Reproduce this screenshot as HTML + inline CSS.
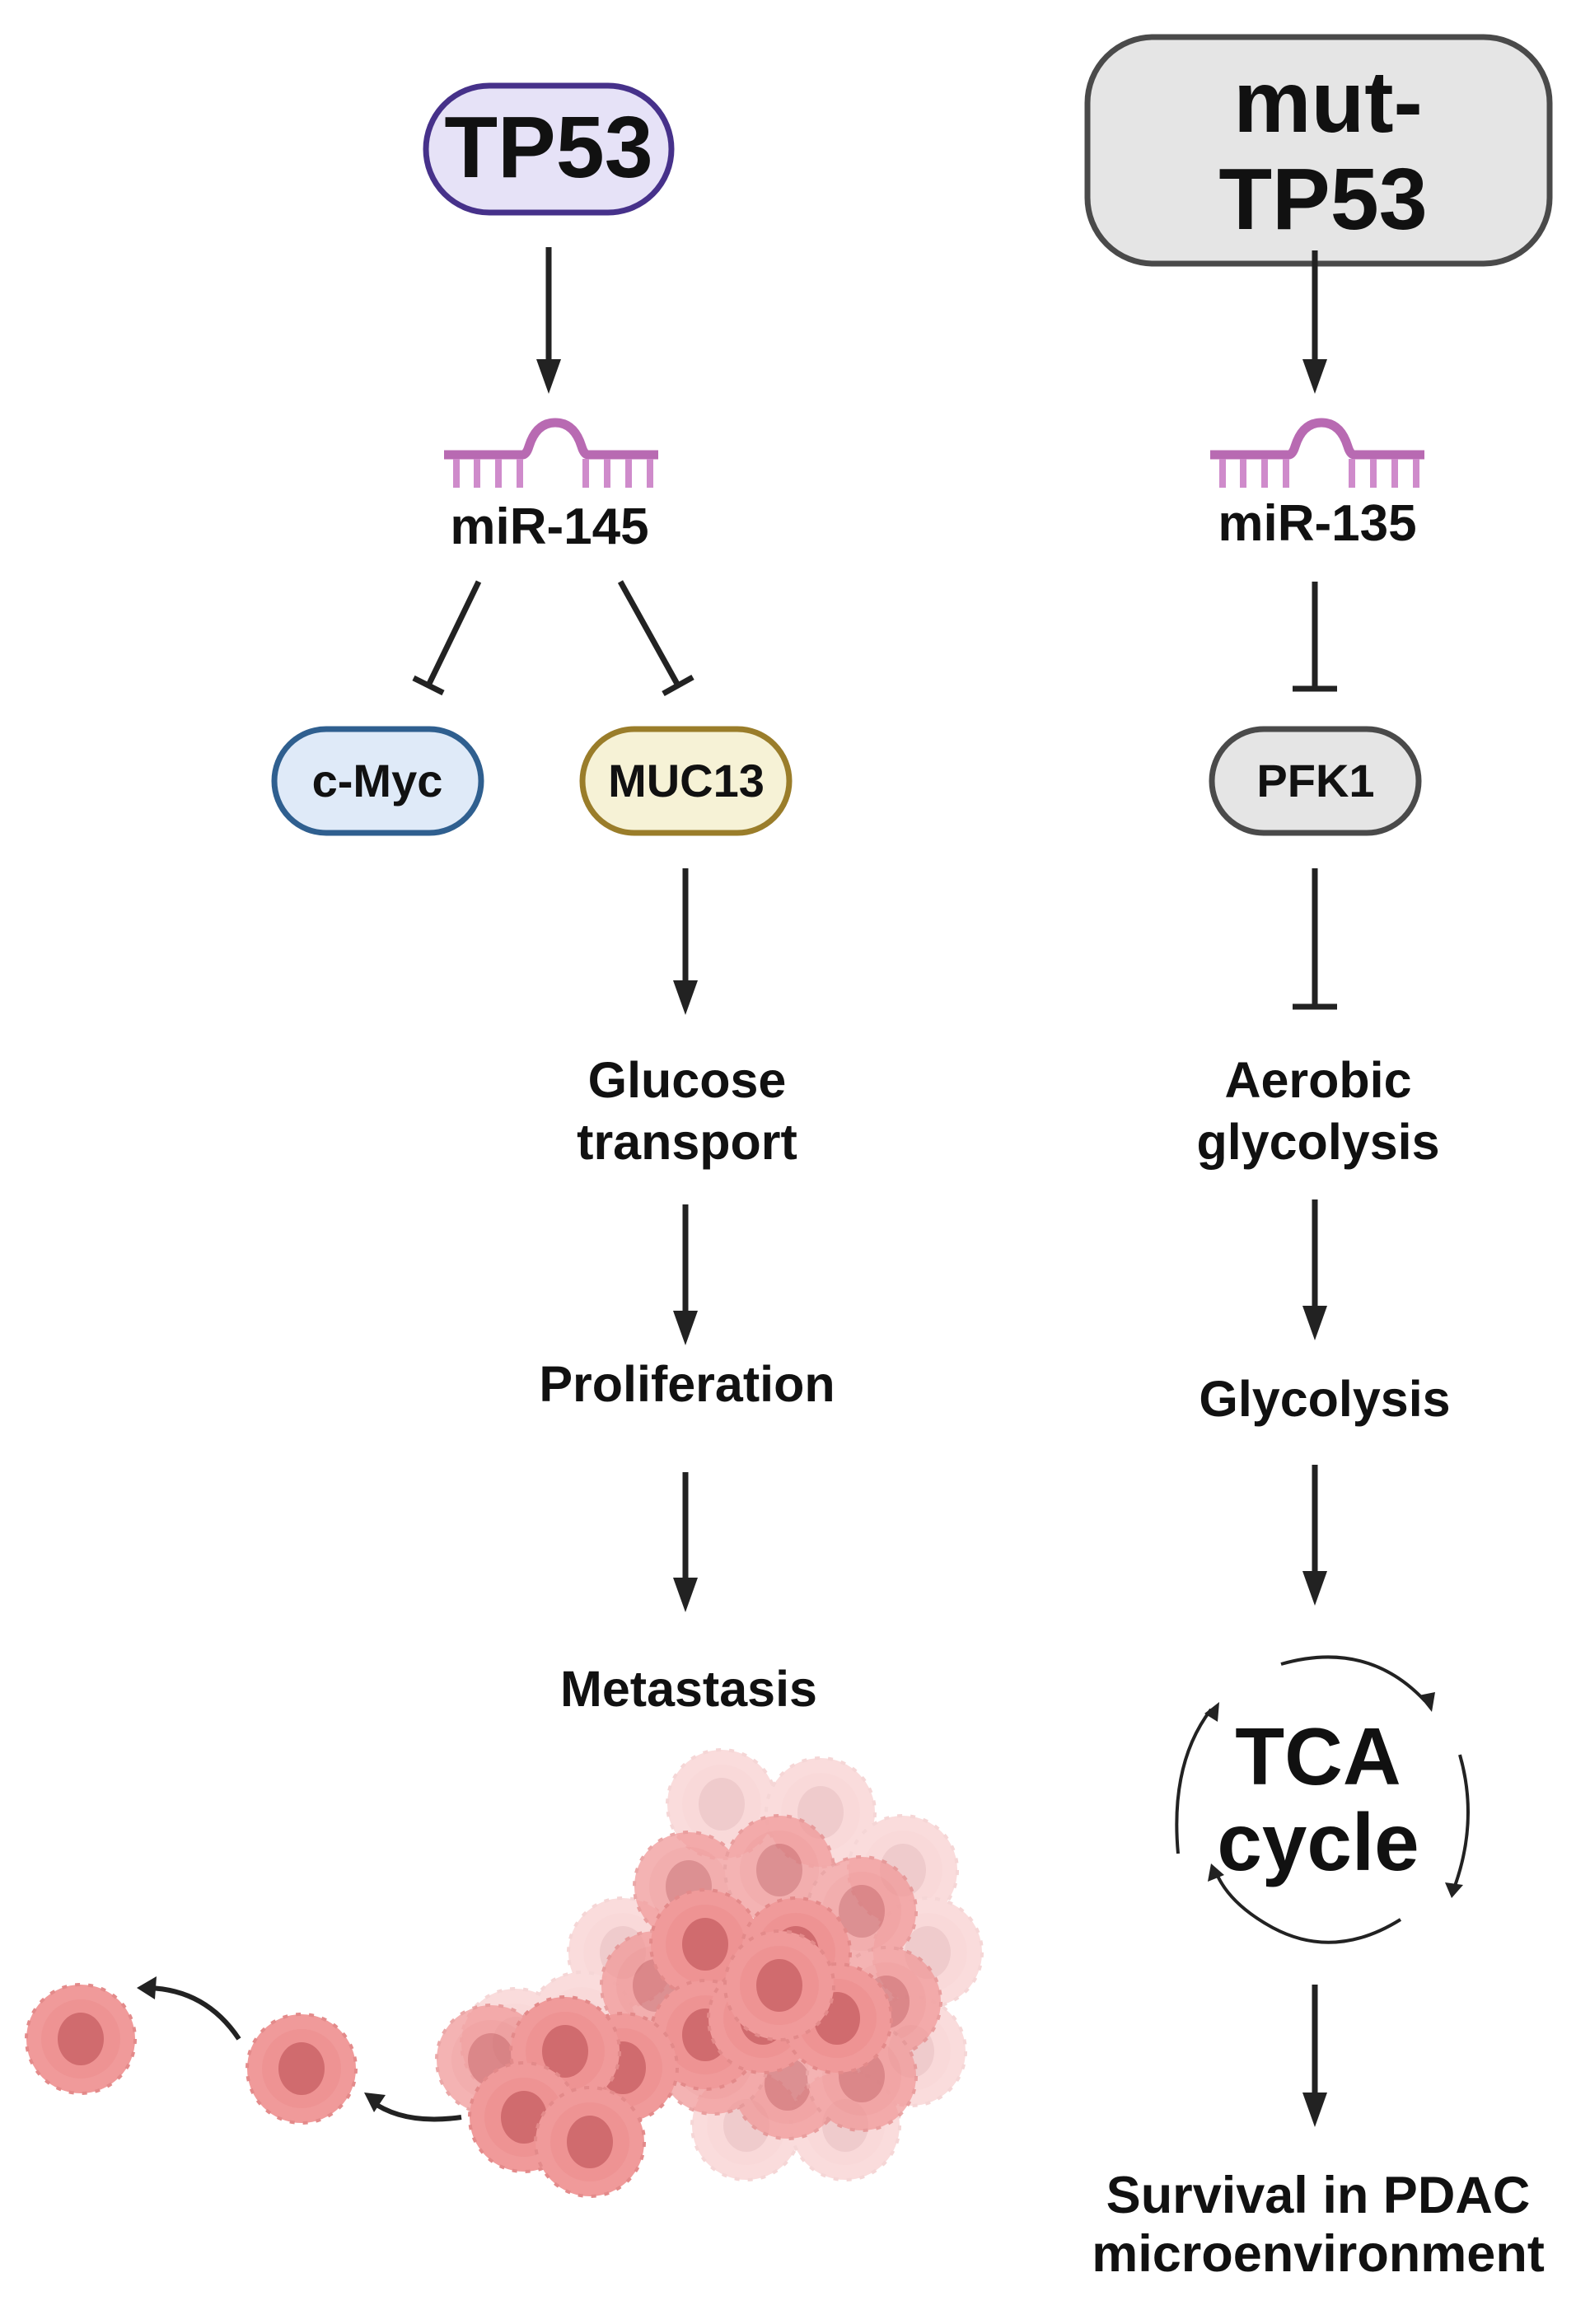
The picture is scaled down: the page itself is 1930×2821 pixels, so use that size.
<!DOCTYPE html>
<html><head><meta charset="utf-8"><style>
html,body{margin:0;padding:0;background:#fff}
svg{display:block}
text{font-family:"Liberation Sans",Arial,sans-serif;font-weight:bold;fill:#111;text-anchor:middle}
</style></head><body>
<svg width="1930" height="2821" viewBox="0 0 1930 2821" xmlns="http://www.w3.org/2000/svg">
<defs>
<g id="mir">
<path d="M0 43 H95 Q100 43 103 33 Q112 4 135 4 Q158 4 167 33 Q170 43 175 43 H260" fill="none" stroke="#b86ab2" stroke-width="11"/>
<g stroke="#cf8bcb" stroke-width="8">
<line x1="15" y1="48" x2="15" y2="83"/><line x1="40" y1="48" x2="40" y2="83"/><line x1="66" y1="48" x2="66" y2="83"/><line x1="92" y1="48" x2="92" y2="83"/>
<line x1="172" y1="48" x2="172" y2="83"/><line x1="198" y1="48" x2="198" y2="83"/><line x1="224" y1="48" x2="224" y2="83"/><line x1="250" y1="48" x2="250" y2="83"/>
</g>
</g>
<g id="cell">
<circle r="66" fill="#f09a9a"/>
<circle r="66" fill="none" stroke="#e38a8a" stroke-width="4" stroke-dasharray="6 10"/>
<circle r="48" fill="#ec9090" opacity="0.6"/>
<ellipse rx="28" ry="32" fill="#d06b6e"/>
</g>
</defs>
<g transform="translate(6,0)">
<rect x="511" y="104" width="298" height="154" rx="77" fill="#e6e2f7" stroke="#46318a" stroke-width="7"/>
<text x="660" y="215" font-size="106">TP53</text>

<g stroke="#222" stroke-width="7" fill="none">
<line x1="660" y1="300" x2="660" y2="440"/>
<line x1="575" y1="706" x2="514" y2="832"/>
<line x1="496" y1="823" x2="532" y2="841"/>
<line x1="747" y1="706" x2="817" y2="832"/>
<line x1="799" y1="842" x2="835" y2="822"/>
<line x1="826" y1="1054" x2="826" y2="1195"/>
<line x1="826" y1="1462" x2="826" y2="1596"/>
<line x1="826" y1="1787" x2="826" y2="1920"/>
</g>
<g fill="#222">
<polygon points="645,436 675,436 660,478"/>
<polygon points="811,1190 841,1190 826,1232"/>
<polygon points="811,1591 841,1591 826,1633"/>
<polygon points="811,1915 841,1915 826,1957"/>
</g>
<use href="#mir" x="533" y="509"/>
<text x="661" y="660" font-size="62">miR-145</text>

<rect x="327" y="885" width="251" height="126" rx="63" fill="#dfeaf8" stroke="#2f5f8f" stroke-width="7"/>
<text x="452" y="967" font-size="56">c-Myc</text>
<rect x="701" y="885" width="251" height="126" rx="63" fill="#f6f2d6" stroke="#9a7d2a" stroke-width="7"/>
<text x="827" y="967" font-size="56">MUC13</text>

<text x="828" y="1332" font-size="61">Glucose</text>
<text x="828" y="1407" font-size="61">transport</text>
<text x="828" y="1701" font-size="61">Proliferation</text>
<text x="830" y="2071" font-size="61">Metastasis</text>

<g opacity="0.35">
<use href="#cell" x="870" y="2190"/><use href="#cell" x="990" y="2200"/>
<use href="#cell" x="1090" y="2270"/><use href="#cell" x="1120" y="2370"/>
<use href="#cell" x="750" y="2370"/><use href="#cell" x="700" y="2460"/>
<use href="#cell" x="1100" y="2490"/><use href="#cell" x="900" y="2580"/>
<use href="#cell" x="1020" y="2580"/><use href="#cell" x="620" y="2480"/>
</g>
<g opacity="0.75">
<use href="#cell" x="830" y="2290"/><use href="#cell" x="940" y="2270"/>
<use href="#cell" x="1040" y="2320"/><use href="#cell" x="790" y="2410"/>
<use href="#cell" x="1070" y="2430"/><use href="#cell" x="950" y="2530"/>
<use href="#cell" x="860" y="2500"/><use href="#cell" x="1040" y="2520"/>
<use href="#cell" x="590" y="2500"/>
</g>
<use href="#cell" x="850" y="2360"/><use href="#cell" x="960" y="2370"/>
<use href="#cell" x="850" y="2470"/><use href="#cell" x="920" y="2450"/>
<use href="#cell" x="1010" y="2450"/><use href="#cell" x="940" y="2410"/>
<use href="#cell" x="750" y="2510"/><use href="#cell" x="680" y="2490"/>
<use href="#cell" x="630" y="2570"/><use href="#cell" x="710" y="2600"/>

<use href="#cell" x="92" y="2475"/>
<use href="#cell" x="360" y="2511"/>
<g stroke="#222" stroke-width="6" fill="none">
<path d="M284 2475 Q244 2415 174 2413"/>
<path d="M554 2570 Q484 2580 444 2550"/>
</g>
<g fill="#222">
<polygon points="160,2413 184,2399 182,2427"/>
<polygon points="436,2540 462,2543 448,2564"/>
</g>
</g>

<rect x="1320" y="45" width="561" height="275" rx="80" fill="#e5e5e5" stroke="#4a4a4a" stroke-width="7"/>
<g transform="translate(20,0)">
<text x="1592" y="160" font-size="106">mut-</text>
<text x="1586" y="278" font-size="106">TP53</text>

<g stroke="#222" stroke-width="7" fill="none">
<line x1="1576" y1="304" x2="1576" y2="440"/>
<line x1="1576" y1="706" x2="1576" y2="836"/>
<line x1="1549" y1="836" x2="1603" y2="836"/>
<line x1="1576" y1="1054" x2="1576" y2="1222"/>
<line x1="1549" y1="1222" x2="1603" y2="1222"/>
<line x1="1576" y1="1456" x2="1576" y2="1590"/>
<line x1="1576" y1="1778" x2="1576" y2="1912"/>
<line x1="1576" y1="2409" x2="1576" y2="2545"/>
</g>
<g fill="#222">
<polygon points="1561,436 1591,436 1576,478"/>
<polygon points="1561,1585 1591,1585 1576,1627"/>
<polygon points="1561,1907 1591,1907 1576,1949"/>
<polygon points="1561,2540 1591,2540 1576,2582"/>
</g>

<use href="#mir" x="1449" y="509"/>
<text x="1579" y="656" font-size="62">miR-135</text>

<rect x="1451" y="885" width="251" height="126" rx="63" fill="#e5e5e5" stroke="#4a4a4a" stroke-width="7"/>
<text x="1577" y="967" font-size="56">PFK1</text>

<text x="1580" y="1332" font-size="61">Aerobic</text>
<text x="1580" y="1407" font-size="61">glycolysis</text>
<text x="1588" y="1719" font-size="61">Glycolysis</text>

<text x="1580" y="2166" font-size="98">TCA</text>
<text x="1580" y="2270" font-size="98">cycle</text>
<g stroke="#222" stroke-width="4" fill="none">
<path d="M1535 2020 Q1640 1990 1710 2065"/>
<path d="M1752 2130 Q1775 2210 1745 2292"/>
<path d="M1680 2330 Q1600 2380 1525 2340 Q1470 2310 1455 2270"/>
<path d="M1410 2250 Q1400 2140 1450 2075"/>
</g>
<g fill="#222">
<polygon points="1702,2058 1722,2054 1718,2078"/>
<polygon points="1734,2285 1756,2288 1742,2304"/>
<polygon points="1450,2262 1446,2284 1466,2276"/>
<polygon points="1442,2080 1460,2066 1458,2090"/>
</g>

<text x="1580" y="2686" font-size="63">Survival in PDAC</text>
<text x="1580" y="2757" font-size="63">microenvironment</text>
</g>
</svg>
</body></html>
